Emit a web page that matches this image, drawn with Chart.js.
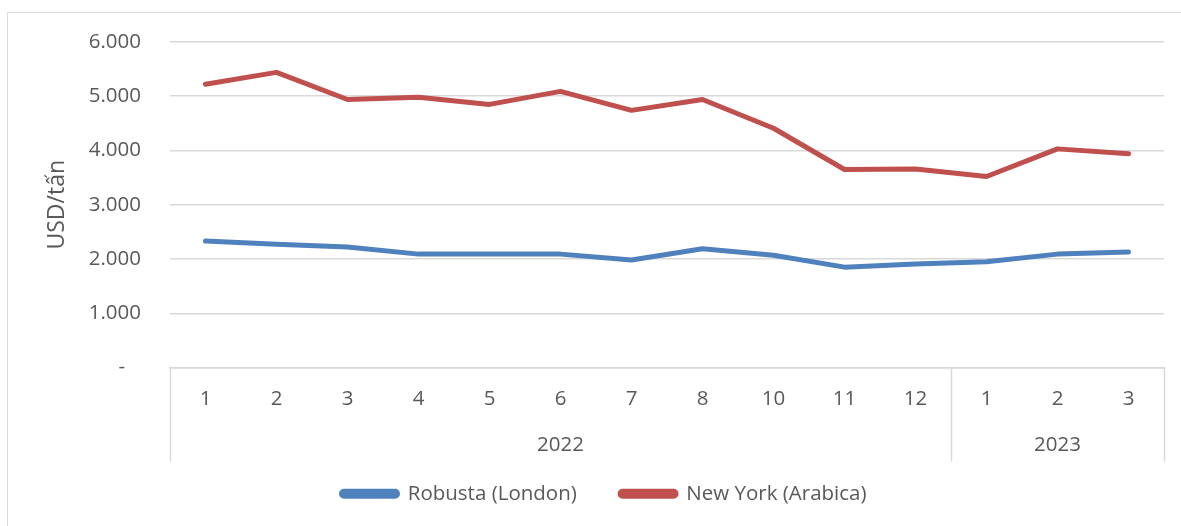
<!DOCTYPE html>
<html>
<head>
<meta charset="utf-8">
<script src="https://cdn.jsdelivr.net/npm/chart.js@4"></script>
<style>
  html, body { margin: 0; padding: 0; background: #fff; }
  body { width: 1181px; height: 526px; position: relative; overflow: hidden; }
  #frame { position: absolute; left: 7px; top: 12px; width: 1190px; height: 530px; border: 1.5px solid #d9d9d9; }
  #wrap { position: absolute; left: 0; top: 0; width: 1181px; height: 526px; }
</style>
</head>
<body>
<div id="frame"></div>
<div id="wrap"><canvas id="chart"></canvas></div>
<script>
// ── Data ──
const months = ['1', '2', '3', '4', '5', '6', '7', '8', '10', '11', '12', '1', '2', '3'];
const yearGroups = ['2022', '2023'];
const yearCounts = [11, 3];
const robusta = [2330, 2270, 2220, 2090, 2090, 2090, 1980, 2190, 2070, 1850, 1910, 1950, 2090, 2130];
const arabica = [5220, 5440, 4940, 4980, 4850, 5090, 4740, 4940, 4410, 3650, 3660, 3520, 4030, 3940];
const yTicks = [0, 1000, 2000, 3000, 4000, 5000, 6000];

const textColor = '#595959';
const gridColor = '#d9d9d9';
const fontFamily = '"Open Sans", "Liberation Sans", sans-serif';
const fontSize = 20.5;

// year labels sit in the middle category of each group
const yearLabels = months.map(() => '');
let start = 0;
yearCounts.forEach((n, i) => {
    yearLabels[start + Math.floor(n / 2)] = yearGroups[i];
    start += n;
});

// ── Group separators under the month labels ──
const groupLines = {
    id: 'groupLines',
    afterDraw(chart) {
        const x = chart.scales.x;
        const x2 = chart.scales.x2;
        const ctx = chart.ctx;
        const half = (x.getPixelForValue(1) - x.getPixelForValue(0)) / 2;
        const edges = [0];
        let acc = 0;
        yearCounts.forEach(n => { acc += n; edges.push(acc); });
        ctx.save();
        ctx.strokeStyle = gridColor;
        ctx.lineWidth = 1.5;
        edges.forEach(e => {
            const px = Math.round(x.getPixelForValue(0) - half + e * half * 2) + 0.5;
            ctx.beginPath();
            ctx.moveTo(px, x.top);
            ctx.lineTo(px, x2.bottom);
            ctx.stroke();
        });
        ctx.restore();
    }
};

// wider gap between legend entries (trailing spaces on all but the last)
const legendLabels = (chart) => {
    const items = Chart.defaults.plugins.legend.labels.generateLabels(chart);
    return items.map((it, i) => {
        if (i < items.length - 1) it.text = it.text + '    ';
        return it;
    });
};

const ctx = document.getElementById('chart').getContext('2d');
new Chart(ctx, {
    type: 'line',
    data: {
        labels: months,
        datasets: [
            {
                label: 'Robusta (London)',
                data: robusta,
                borderColor: '#4f81bd',
                backgroundColor: '#4f81bd',
                borderWidth: 5,
                borderCapStyle: 'round',
                borderJoinStyle: 'round',
                pointRadius: 0,
                tension: 0
            },
            {
                label: 'New York (Arabica)',
                data: arabica,
                borderColor: '#c0504d',
                backgroundColor: '#c0504d',
                borderWidth: 5,
                borderCapStyle: 'round',
                borderJoinStyle: 'round',
                pointRadius: 0,
                tension: 0
            }
        ]
    },
    options: {
        responsive: true,
        maintainAspectRatio: false,
        animation: false,
        layout: { padding: { top: 42, right: 17, bottom: 12, left: 44 } },
        plugins: {
            legend: {
                display: true,
                position: 'bottom',
                labels: {
                    boxWidth: 56,
                    boxHeight: 5,
                    useBorderRadius: true,
                    borderRadius: 2.5,
                    padding: 22,
                    color: textColor,
                    font: { family: fontFamily, size: fontSize },
                    generateLabels: legendLabels
                }
            },
            tooltip: { enabled: false }
        },
        scales: {
            x: {
                type: 'category',
                offset: true,
                grid: { display: false },
                border: { display: true, color: gridColor, width: 1.5 },
                ticks: {
                    color: textColor,
                    font: { family: fontFamily, size: fontSize },
                    padding: 11,
                    autoSkip: false,
                    maxRotation: 0
                },
                afterFit: (s) => { s.height = 50; }
            },
            x2: {
                type: 'category',
                position: 'bottom',
                labels: yearLabels,
                offset: true,
                grid: { display: false },
                border: { display: false },
                ticks: {
                    color: textColor,
                    font: { family: fontFamily, size: fontSize },
                    padding: 7,
                    autoSkip: false,
                    maxRotation: 0
                },
                afterFit: (s) => { s.height = 44; }
            },
            y: {
                min: 0,
                max: 6000,
                afterBuildTicks: (s) => { s.ticks = yTicks.map(v => ({ value: v })); },
                grid: { color: gridColor, lineWidth: 1.5, drawTicks: false },
                border: { display: false },
                ticks: {
                    color: textColor,
                    font: { family: fontFamily, size: fontSize },
                    padding: 29,
                    callback: (v) => v === 0 ? '-   ' : v.toLocaleString('de-DE')
                },
                title: {
                    display: true,
                    text: 'USD/tấn',
                    color: textColor,
                    font: { family: fontFamily, size: 23 },
                    padding: { top: 0, bottom: 0 }
                },
                afterFit: (s) => { s.width = 126; }
            }
        }
    },
    plugins: [groupLines]
});
</script>
</body>
</html>
